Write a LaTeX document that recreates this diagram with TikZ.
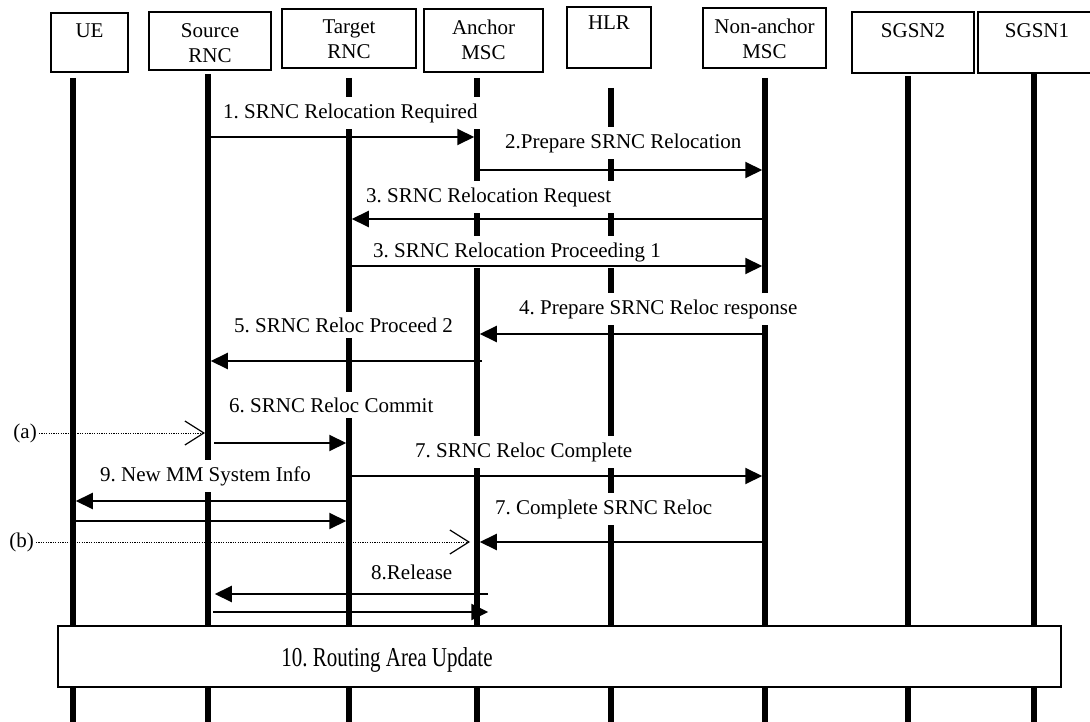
\documentclass[tikz,border=0pt]{standalone}
\usepackage{fontspec}
\setmainfont{Liberation Serif}
\usetikzlibrary{arrows.meta}
\frenchspacing

\begin{document}
\begin{tikzpicture}[x=1pt, y=-1pt,
        font=\fontsize{21}{25}\selectfont,
        entity/.style = {draw, line width=2.2pt, inner sep=0pt},
        heading/.style = {inner sep=0pt, align=center, anchor=north},
        life/.style = {line width=5.5pt},
        lab/.style = {fill=white, inner xsep=3pt, inner ysep=6pt, anchor=west},
        msg/.style = {line width=2pt, -{Triangle[length=17pt, width=16pt]},
            shorten >=2.75pt},
        dots/.style = {line width=1pt, dash pattern=on 1.2pt off 1.2pt,
            -{Straight Barb[length=19pt, width=24pt, line width=1.2pt]}}]
    \useasboundingbox (0,0) rectangle (1090,722);
    \clip (0,0) rectangle (1090,722);

    % entity boxes
    \node[entity, minimum width=77pt, minimum height=59pt] (ueb) at (89.5,42.5) {};
    \node[entity, minimum width=122pt, minimum height=58pt] (srcb) at (210,41) {};
    \node[entity, minimum width=134pt, minimum height=59pt] (tgtb) at (349,38.5) {};
    \node[entity, minimum width=119pt, minimum height=63pt] (ancb) at (483.5,40.5) {};
    \node[entity, minimum width=84pt, minimum height=61pt] (hlrb) at (609,37.5) {};
    \node[entity, minimum width=123pt, minimum height=60pt] (namb) at (764.5,38) {};
    \node[entity, minimum width=122pt, minimum height=61pt] (sg2b) at (913,42.5) {};
    \node[entity, minimum width=118pt, minimum height=61pt] (sg1b) at (1037,42.5) {};
    \node[heading] (uet) at ([yshift=-12pt]ueb.north) {UE};
    \node[heading] (srct) at ([yshift=-12pt]srcb.north) {Source\\RNC};
    \node[heading] (tgtt) at ([yshift=-12pt]tgtb.north) {Target\\RNC};
    \node[heading] (anct) at ([yshift=-12pt]ancb.north) {Anchor\\MSC};
    \node[heading] (hlrt) at ([yshift=-10pt]hlrb.north) {HLR};
    \node[heading] (namt) at ([yshift=-12pt]namb.north) {Non-anchor\\MSC};
    \node[heading] (sg2t) at ([yshift=-12pt]sg2b.north) {SGSN2};
    \node[heading] (sg1t) at ([yshift=-12pt]sg1b.north) {SGSN1};

    % lifelines
    \foreach \n/\x/\y in {ue/73/78, src/208/74, tgt/349/78, anc/477/78,
            hlr/611/88, nam/765/78, sg2/908/76, sg1/1034/74} {
        \coordinate (\n) at (\x,\y);
        \draw[life] (\x,\y) -- (\x,722);
    }

    % routing area update
    \node[draw, line width=2pt, fill=white, minimum width=1003pt,
        minimum height=61pt] (rau) at (559.5,656.5) {};
    \node (raut) at (387,660) {\scalebox{1}[1.3]{10. Routing Area Update}};

    % message labels
    \node[lab] (l1) at (220,113) {1. SRNC Relocation Required};
    \node[lab] (l2) at (502,143) {2.Prepare SRNC Relocation};
    \node[lab] (l3) at (363,197) {3. SRNC Relocation Request};
    \node[lab] (l4) at (370,252) {3. SRNC Relocation Proceeding 1};
    \node[lab] (l5) at (516,309) {4. Prepare SRNC Reloc response};
    \node[lab] (l6) at (231,325) {5. SRNC Reloc Proceed 2};
    \node[lab] (l7) at (226,405) {6. SRNC Reloc Commit};
    \node[lab] (l8) at (412,452) {7. SRNC Reloc Complete};
    \node[lab] (l9) at (97,476) {9. New MM System Info};
    \node[lab] (l10) at (492,509) {7. Complete SRNC Reloc};
    \node[lab] (l11) at (368,572) {8.Release};

    % message rows
    \foreach \n/\y in {r1/137, r2/170, r3/219, r4/266, r5/334, r6/361,
            r7/443, r8/476, r9/501, r10/521, r11/542, r12/594, r13/612}
        \coordinate (\n) at (0,\y);

    \draw[msg] (src |- r1) -- (anc |- r1);
    \draw[msg] ([xshift=3pt]anc |- r2) -- (nam |- r2);
    \draw[msg] (nam |- r3) -- (tgt |- r3);
    \draw[msg] (tgt |- r4) -- (nam |- r4);
    \draw[msg] (nam |- r5) -- (anc |- r5);
    \draw[msg] ([xshift=5pt]anc |- r6) -- (src |- r6);
    \draw[msg] ([xshift=6pt]src |- r7) -- (tgt |- r7);
    \draw[msg] (tgt |- r8) -- (nam |- r8);
    \draw[msg] (tgt |- r9) -- (ue |- r9);
    \draw[msg] (ue |- r10) -- (tgt |- r10);
    \draw[msg] (nam |- r11) -- (anc |- r11);
    \draw[msg] ([xshift=11pt]anc |- r12) -- ([xshift=4pt]src |- r12);
    \draw[msg] ([xshift=5pt]src |- r13) -- ([xshift=14pt]anc |- r13);

    % (a) and (b)
    \node[inner sep=2pt, anchor=east] (pa) at (39,433) {(a)};
    \draw[dots, shorten >=3pt] (pa.east) -- (src |- pa.east);
    \node[inner sep=2pt, anchor=east] (pb) at (36,542) {(b)};
    \draw[dots, shorten >=7pt] (pb.east) -- (anc |- pb.east);
\end{tikzpicture}
\end{document}
